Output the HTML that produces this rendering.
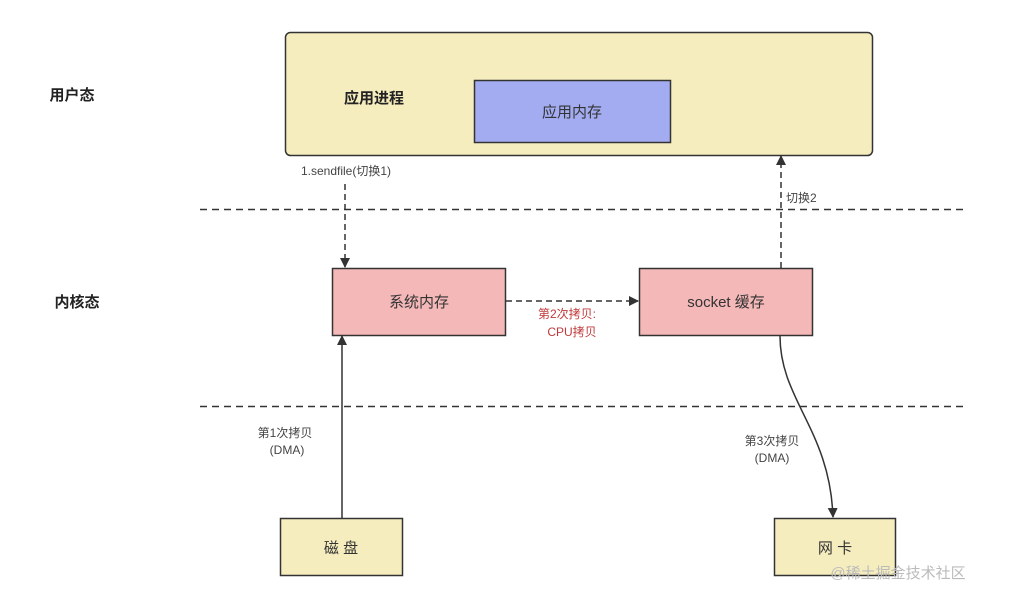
<!DOCTYPE html>
<html><head><meta charset="utf-8"><style>
body{margin:0;background:#fff;}
svg text{font-family:"Liberation Sans","Noto Sans CJK SC",sans-serif;}
</style></head><body>
<svg width="1030" height="605" viewBox="0 0 1030 605" xmlns="http://www.w3.org/2000/svg">
<defs><marker id="a" markerWidth="10" markerHeight="10" refX="9" refY="5" orient="auto" markerUnits="userSpaceOnUse"><path d="M0,0 L10,5 L0,10 Z" fill="#333"/></marker></defs>
<rect x="285.5" y="32.5" width="587" height="123" rx="5" fill="#f6edbf" stroke="#333" stroke-width="1.5"/>
<rect x="474.5" y="80.5" width="196" height="62" fill="#a3acf0" stroke="#333" stroke-width="1.5"/>
<text x="572" y="117" font-size="15" text-anchor="middle" fill="#333">应用内存</text>
<text x="374" y="103" font-size="15" font-weight="bold" text-anchor="middle" fill="#222">应用进程</text>
<text x="72" y="100" font-size="15" font-weight="bold" text-anchor="middle" fill="#222">用户态</text>
<text x="77" y="307" font-size="15" font-weight="bold" text-anchor="middle" fill="#222">内核态</text>
<line x1="200" y1="209.5" x2="965" y2="209.5" stroke="#333" stroke-width="1.5" stroke-dasharray="7,5"/>
<line x1="200" y1="406.5" x2="965" y2="406.5" stroke="#333" stroke-width="1.5" stroke-dasharray="7,5"/>
<rect x="332.5" y="268.5" width="173" height="67" fill="#f5b8b8" stroke="#333" stroke-width="1.5"/>
<text x="419" y="307" font-size="15" text-anchor="middle" fill="#333">系统内存</text>
<rect x="639.5" y="268.5" width="173" height="67" fill="#f5b8b8" stroke="#333" stroke-width="1.5"/>
<text x="726" y="307" font-size="15" text-anchor="middle" fill="#333">socket 缓存</text>
<rect x="280.5" y="518.5" width="122" height="57" fill="#f6edbf" stroke="#333" stroke-width="1.5"/>
<text x="341" y="553" font-size="15" text-anchor="middle" fill="#333">磁  盘</text>
<rect x="774.5" y="518.5" width="121" height="57" fill="#f6edbf" stroke="#333" stroke-width="1.5"/>
<text x="835" y="553" font-size="15" text-anchor="middle" fill="#333">网  卡</text>
<text x="346" y="175" font-size="12" text-anchor="middle" fill="#444">1.sendfile(切换1)</text>
<line x1="345" y1="184" x2="345" y2="267" stroke="#333" stroke-width="1.5" stroke-dasharray="6,4" marker-end="url(#a)"/>
<line x1="781" y1="268" x2="781" y2="156" stroke="#333" stroke-width="1.5" stroke-dasharray="6,4" marker-end="url(#a)"/>
<text x="786" y="202" font-size="12" fill="#444">切换2</text>
<line x1="506" y1="301" x2="638" y2="301" stroke="#333" stroke-width="1.5" stroke-dasharray="6,4" marker-end="url(#a)"/>
<text x="567" y="318" font-size="12" text-anchor="middle" fill="#c0393b">第2次拷贝:</text>
<text x="572" y="336" font-size="12" text-anchor="middle" fill="#c0393b">CPU拷贝</text>
<line x1="342" y1="518" x2="342" y2="336" stroke="#333" stroke-width="1.5" marker-end="url(#a)"/>
<text x="285" y="437" font-size="12" text-anchor="middle" fill="#444">第1次拷贝</text>
<text x="287" y="454" font-size="12" text-anchor="middle" fill="#444">(DMA)</text>
<path d="M780,336 C780,400 830,430 833,517" fill="none" stroke="#333" stroke-width="1.5" marker-end="url(#a)"/>
<text x="772" y="445" font-size="12" text-anchor="middle" fill="#444">第3次拷贝</text>
<text x="772" y="462" font-size="12" text-anchor="middle" fill="#444">(DMA)</text>
<text x="898" y="578" font-size="15" text-anchor="middle" fill="#bbb">@稀土掘金技术社区</text>
</svg>
</body></html>
